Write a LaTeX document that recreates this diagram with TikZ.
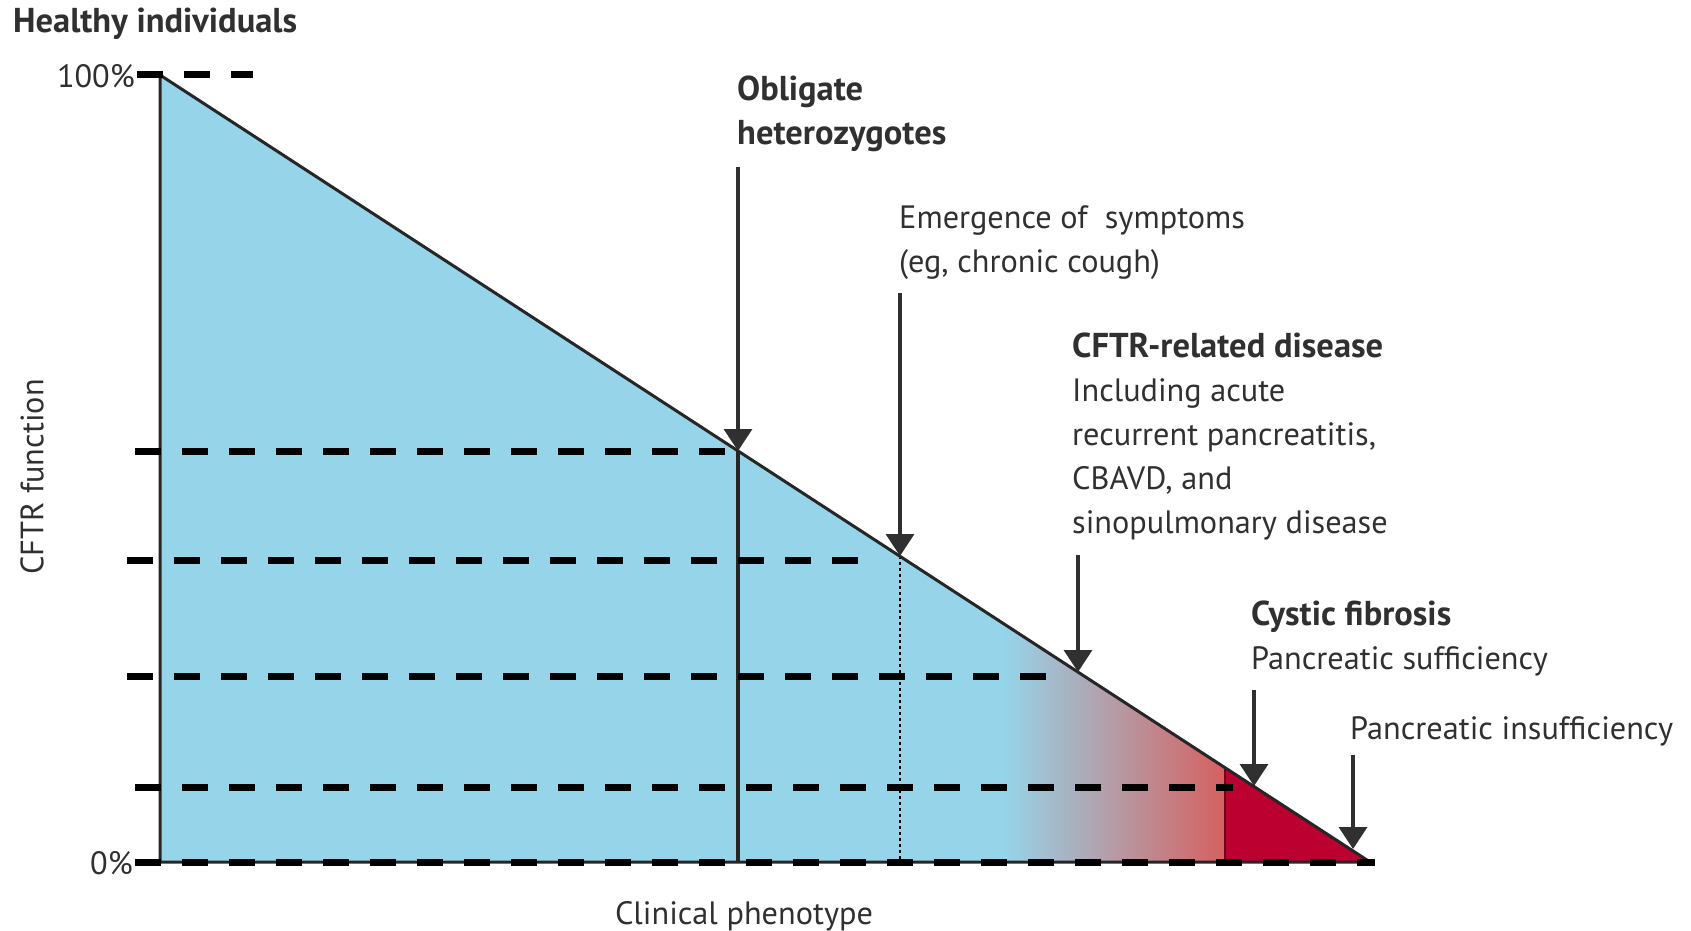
\documentclass[tikz,border=0pt]{standalone}
\usepackage{fontspec}
\setmainfont{PT Sans}
\usetikzlibrary{arrows.meta}

\definecolor{cftrblue}{RGB}{150,212,233}
\definecolor{cfred}{RGB}{188,0,48}
\definecolor{fadered}{RGB}{214,96,96}
\definecolor{inkgrey}{RGB}{48,48,48}

% bold headings are a little wider than the body text
\newcommand\cfhead[1]{{\fontsize{34.5}{44}\selectfont\bfseries #1}}

\begin{document}
\begin{tikzpicture}[x=1pt,y=-1pt,
    dashline/.style={line width=7pt, dash pattern=on 26pt off 21pt},
    pointer/.style={line width=3.5pt, inkgrey, -{Triangle[width=28pt,length=22pt]}},
    lbl/.style={inner sep=0pt, text=inkgrey, align=left,
        font=\fontsize{32.3}{44}\selectfont},
]
\useasboundingbox (0,0) rectangle (1691,931);

% corners of the triangle
\coordinate (top) at (160,75);
\coordinate (origin) at (160,862);
\coordinate (tail) at (1370,862);

% points on the slope where the arrows land
\coordinate (hetpt) at (738,451);
\coordinate (emgpt) at (900,556);
\coordinate (relpt) at (1078,672);
\coordinate (pspt) at (1254,786);
\coordinate (pipt) at (1353,849);

% where the arrows start
\coordinate (hetstart) at (738,167);
\coordinate (emgstart) at (900,293);
\coordinate (relstart) at (1078,555);
\coordinate (psstart) at (1254,690);
\coordinate (pistart) at (1353,755);

% blue area
\fill[cftrblue] (top) -- (tail) -- (origin) -- cycle;

% fading into red
\shade[left color=cftrblue, right color=fadered]
    (1005,624) -- (1225,768) -- (1225,862) -- (1005,862) -- cycle;

% cystic fibrosis part
\fill[cfred] (1225,768) -- (tail) -- (1225,862) -- cycle;
\draw[line width=2pt, color=cfred!60!black] (1225,768) -- (1225,862);

% heterozygotes and symptoms lines
\draw[line width=4pt, color=black!85] (hetpt) -- (738,862);
\draw[line width=2pt, dash pattern=on 3pt off 3pt] (emgpt) -- (900,862);

% outline
\draw[line width=3pt, color=black!85] (top) -- (tail) -- (origin) -- cycle;

% dashed levels
\draw[dashline] (137,75) -- (253,75);
\draw[dashline] (135,451) -- (733,451);
\draw[dashline] (127,560) -- (875,560);
\draw[dashline] (127,676) -- (1051,676);
\draw[dashline] (135,787) -- (1233,787);
\draw[dashline] (135,862) -- (1375,862);

% arrows
\draw[pointer] (hetstart) -- (hetpt);
\draw[pointer] (emgstart) -- (emgpt);
\draw[pointer] (relstart) -- (relpt);
\draw[pointer] (psstart) -- (pspt);
\draw[pointer] (pistart) -- (pipt);

% axis texts
\node[lbl, anchor=base west] (healthy) at (13,33) {\cfhead{Healthy individuals}};
\node[lbl, anchor=east] (full) at (135,76) {100\%};
\node[lbl, anchor=east] (zero) at (133,863) {0\%};
\node[lbl, rotate=90] (yaxis) at (32,477) {CFTR function};
\node[lbl] (xaxis) at (744,916) {Clinical phenotype};

% labels (base = last line)
\node[lbl, anchor=base west] (het) at (737,145)
    {\cfhead{Obligate}\\\cfhead{heterozygotes}};
\node[lbl, anchor=base west] (emg) at (899,272)
    {Emergence of~ symptoms\\(eg, chronic cough)};
\node[lbl, anchor=base west] (rel) at (1072,533)
    {\cfhead{CFTR-related disease}\\Including acute\\recurrent pancreatitis,\\CBAVD, and\\sinopulmonary disease};
\node[lbl, anchor=base west] (cf) at (1251,669)
    {\cfhead{Cystic fibrosis}\\Pancreatic sufficiency};
\node[lbl, anchor=base west] (pi) at (1350,739) {Pancreatic insufficiency};

\end{tikzpicture}
\end{document}
